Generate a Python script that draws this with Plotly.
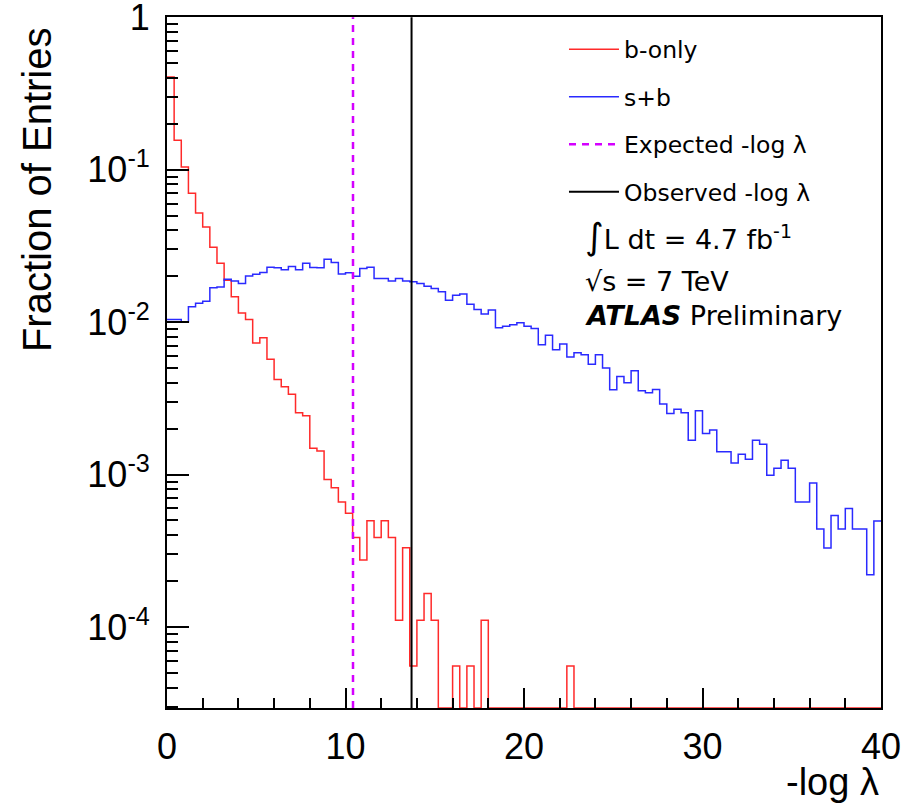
import numpy as np
import plotly.graph_objects as go

# ---------------- data ----------------
bin_lo, bin_hi, n_bins = 0.0, 40.0, 100

b_only = [
    0.406, 0.156, 0.104, 0.070, 0.052, 0.042, 0.031, 0.0243, 0.0188, 0.0147,
    0.0115, 0.0104, 0.0073, 0.0079, 0.0057, 0.0042, 0.00377, 0.00337, 0.00254, 0.00243,
    0.00149, 0.00143, 0.00093, 0.00082, 0.00066, 0.000557, 0.000387, 0.000275, 0.000498, 0.000387,
    0.000498, 0.000387, 0.000111, 0.000331, 0.0000555, 0.000111, 0.000166, 0.000111, 0.0, 0.0,
    0.0000555, 0.0, 0.0000555, 0.0, 0.000111, 0.0, 0.0, 0.0, 0.0, 0.0,
    0.0, 0.0, 0.0, 0.0, 0.0, 0.0, 0.0000555, 0.0, 0.0, 0.0,
    0.0, 0.0, 0.0, 0.0, 0.0, 0.0, 0.0, 0.0, 0.0, 0.0,
    0.0, 0.0, 0.0, 0.0, 0.0, 0.0, 0.0, 0.0, 0.0, 0.0,
    0.0, 0.0, 0.0, 0.0, 0.0, 0.0, 0.0, 0.0, 0.0, 0.0,
    0.0, 0.0, 0.0, 0.0, 0.0, 0.0, 0.0, 0.0, 0.0, 0.0,
]

s_plus_b = [
    0.0104, 0.0104, 0.01005, 0.0126, 0.0133, 0.0137, 0.0168, 0.0170, 0.0191, 0.0186,
    0.0179, 0.0201, 0.0206, 0.0212, 0.0229, 0.0227, 0.0221, 0.0232, 0.0221, 0.0243,
    0.0228, 0.0227, 0.0259, 0.0246, 0.0207, 0.0211, 0.0200, 0.0225, 0.0229, 0.0193,
    0.0193, 0.0186, 0.0193, 0.0186, 0.0184, 0.0179, 0.0172, 0.0166, 0.0158, 0.0139,
    0.0150, 0.0153, 0.0131, 0.0121, 0.0113, 0.0120, 0.0092, 0.0094, 0.0096, 0.0099,
    0.0094, 0.0091, 0.0071, 0.0082, 0.0066, 0.0072, 0.0059, 0.0063, 0.0061, 0.0053,
    0.0061, 0.0050, 0.0036, 0.0044, 0.0040, 0.0048, 0.00355, 0.00344, 0.00362, 0.0029,
    0.00252, 0.00268, 0.00254, 0.00168, 0.00262, 0.00186, 0.00196, 0.00141, 0.00141, 0.00119,
    0.00136, 0.00126, 0.00168, 0.00158, 0.00099, 0.0011, 0.00124, 0.0011, 0.00066, 0.00066,
    0.00088, 0.00044, 0.00033, 0.00054, 0.00044, 0.0006, 0.00044, 0.00044, 0.00022, 0.000496,
]

expected_val = 10.42
observed_val = 13.7

y_min_log = -4.531
y_max_log = 0.0015

y_tick_vals = [1e-4, 1e-3, 1e-2, 1e-1, 1]
y_tick_text = ["10<sup>-4</sup>", "10<sup>-3</sup>", "10<sup>-2</sup>", "10<sup>-1</sup>", "1"]
x_tick_vals = [0, 10, 20, 30, 40]

# ---------------- build ----------------
edges = np.linspace(bin_lo, bin_hi, n_bins + 1)
floor = 10 ** y_min_log
top = 1.0


def step_y(vals):
    v = [max(x, floor) for x in vals]
    return v + [v[-1]]


fig = go.Figure()
fig.add_trace(go.Scatter(x=edges, y=step_y(b_only), mode="lines", line_shape="hv",
                         line=dict(color="#ff2a2a", width=1.5), name="b-only",
                         legendgroup="a", cliponaxis=True))
fig.add_trace(go.Scatter(x=edges, y=step_y(s_plus_b), mode="lines", line_shape="hv",
                         line=dict(color="#2a2aff", width=1.5), name="s+b",
                         legendgroup="b", cliponaxis=True))
fig.add_trace(go.Scatter(x=[expected_val, expected_val], y=[floor, top], mode="lines",
                         line=dict(color="#d400ff", width=2.5, dash="7px,6px"),
                         name="Expected -log λ", legendgroup="c"))
fig.add_trace(go.Scatter(x=[observed_val, observed_val], y=[floor, top], mode="lines",
                         line=dict(color="black", width=2), name="Observed -log λ",
                         legendgroup="d"))

minor_y = [m * 10.0 ** e for e in range(-5, 0) for m in range(2, 10)]
minor_y = [v for v in minor_y if floor <= v <= 1]

tick_font = dict(family="Liberation Sans, Arial, sans-serif", size=36, color="black")

fig.update_layout(
    width=916, height=804,
    margin=dict(l=167, r=35, t=17, b=96, autoexpand=False),
    paper_bgcolor="white", plot_bgcolor="white",
    showlegend=True,
    legend=dict(
        x=0.556, y=0.985, xanchor="left", yanchor="top",
        font=dict(family="DejaVu Sans, sans-serif", size=23.5, color="black"),
        bgcolor="rgba(0,0,0,0)", borderwidth=0,
        tracegroupgap=14, traceorder="grouped", itemwidth=50,
    ),
    xaxis=dict(
        range=[bin_lo, bin_hi], tickmode="array", tickvals=x_tick_vals,
        ticks="inside", ticklen=20, tickwidth=1.5, tickcolor="black",
        minor=dict(ticks="inside", ticklen=10, dtick=2, tickwidth=1.5, tickcolor="black", showgrid=False),
        showline=True, linecolor="black", linewidth=2, mirror=True,
        showgrid=False, zeroline=False, tickfont=tick_font, ticklabelstandoff=6,
        ticklabeloverflow="allow", automargin=False,
    ),
    yaxis=dict(
        type="log", range=[y_min_log, y_max_log], tickmode="array",
        tickvals=y_tick_vals, ticktext=y_tick_text,
        ticks="inside", ticklen=22, tickwidth=1.5, tickcolor="black",
        minor=dict(ticks="inside", ticklen=11, tickmode="array", tickvals=minor_y,
                   tickwidth=1.5, tickcolor="black", showgrid=False),
        showline=True, linecolor="black", linewidth=2, mirror=True,
        showgrid=False, zeroline=False, tickfont=tick_font, ticklabelstandoff=8,
        ticklabeloverflow="allow", automargin=False,
    ),
)

title_font = dict(family="Liberation Sans, Arial, sans-serif", size=40, color="black")
xtitle_font = dict(family="Liberation Sans, Arial, sans-serif", size=38, color="black")
note_font = dict(family="DejaVu Sans, sans-serif", size=27, color="black")

fig.add_annotation(text="Fraction of Entries", textangle=-90, xref="paper", yref="paper",
                   x=-0.182, y=0.7496, xanchor="center", yanchor="middle",
                   showarrow=False, font=title_font)
fig.add_annotation(text="-log λ", xref="paper", yref="paper", x=1.0, y=-0.1071,
                   xanchor="right", yanchor="middle", showarrow=False, font=xtitle_font)
fig.add_annotation(text="<span style='font-size:36px'>∫</span>L dt = 4.7 fb<sup>-1</sup>",
                   xref="paper", yref="paper", x=0.5826, y=0.683,
                   xanchor="left", yanchor="middle", showarrow=False, font=note_font)
fig.add_annotation(text="√s = 7 TeV", xref="paper", yref="paper", x=0.5826, y=0.6165,
                   xanchor="left", yanchor="middle", showarrow=False, font=note_font)
fig.add_annotation(text="<b><i>ATLAS</i></b> Preliminary", xref="paper", yref="paper",
                   x=0.5826, y=0.5687, xanchor="left", yanchor="middle",
                   showarrow=False, font=note_font)

fig.write_html("out.html")
